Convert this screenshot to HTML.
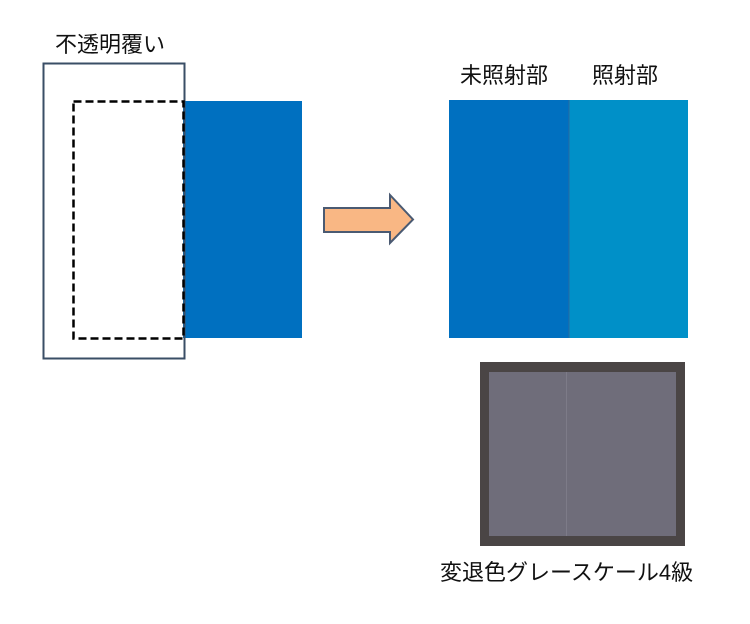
<!DOCTYPE html>
<html><head><meta charset="utf-8"><style>
body{margin:0;width:750px;height:624px;background:#fff;overflow:hidden;position:relative;font-family:"Liberation Sans","Noto Sans CJK JP",sans-serif;}
.t{position:absolute;font-size:22px;color:#111;white-space:nowrap;line-height:1;}
</style></head><body>
<svg width="750" height="624" style="position:absolute;left:0;top:0">
<rect x="183" y="101" width="119" height="237" fill="#0070c0"/>
<rect x="43.5" y="63.5" width="141" height="295" fill="none" stroke="#3a4e66" stroke-width="2"/>
<rect x="73.5" y="101.5" width="110" height="237" fill="none" stroke="#000" stroke-width="2.5" stroke-dasharray="8,4"/>
<polygon points="324,208 390,208 390,195 413,219.5 390,243 390,232 324,232" fill="#f9b784" stroke="#4a5a72" stroke-width="2"/>
<rect x="449" y="100" width="120" height="238" fill="#0070c0"/>
<rect x="569" y="100" width="119" height="238" fill="#0090c8"/>
<line x1="569" y1="100" x2="569" y2="338" stroke="#2a6aa0" stroke-width="1"/>
<rect x="480" y="362" width="205" height="184" fill="#4a4545"/>
<rect x="489" y="372" width="187" height="164" fill="#6f6d7a"/>
<rect x="566" y="372" width="1" height="164" fill="#7d7b88"/>
</svg>
<div class="t" style="left:55px;top:34px">不透明覆い</div>
<div class="t" style="left:460px;top:65px">未照射部</div>
<div class="t" style="left:592px;top:65px">照射部</div>
<div class="t" style="left:440px;top:562px">変退色グレースケール4級</div>
</body></html>
